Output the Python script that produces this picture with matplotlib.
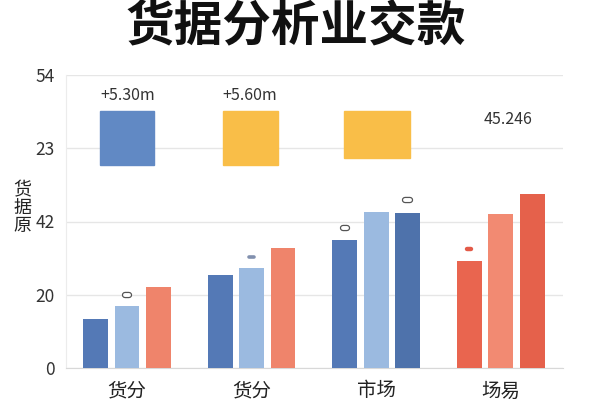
import matplotlib.pyplot as plt
import numpy as np

plt.rcParams['font.family'] = ['Noto Sans CJK SC', 'DejaVu Sans']

# data
title = "货据分析业交款"
ylabel = "货据原"
categories = ["货分", "货分", "市场", "场易"]
ytick_vals = [0, 20, 40, 60, 80]
ytick_labels = ["0", "20", "42", "23", "54"]

# three bars per group (on the evenly spaced axis)
bar1 = [13.3, 25.3, 34.9, 29.1]
bar2 = [16.8, 27.2, 42.6, 42.0]
bar3 = [22.0, 32.7, 42.3, 47.5]

bar1_colors = ["#5479b6", "#5479b6", "#5479b6", "#e9654f"]
bar2_colors = ["#9bbae0", "#9bbae0", "#9bbae0", "#f28a72"]
bar3_colors = ["#ef846b", "#ef846b", "#4e72ab", "#e5614b"]

# little pill marks above some bars: (group, bar, value, style)
pills = [(0, 1, 19.8, "outline"),
         (1, 1, 30.4, "slate"),
         (2, 0, 38.3, "outline"),
         (2, 2, 45.8, "outline"),
         (3, 0, 32.6, "red")]

# top key boxes
key_labels = ["+5.30m", "+5.60m", "", "45.246"]
key_colors = ["#6189c4", "#f9be48", "#f9be48", None]


def main():
    fig = plt.figure(figsize=(6, 4), dpi=100)
    ax = fig.add_axes([66 / 600, 32 / 400, 497 / 600, 293 / 400])

    x = np.arange(len(categories))
    w = 0.2
    off = 0.252
    ax.bar(x - off, bar1, w, color=bar1_colors, zorder=3)
    ax.bar(x, bar2, w, color=bar2_colors, zorder=3)
    ax.bar(x + off, bar3, w, color=bar3_colors, zorder=3)

    for g, b, v, style in pills:
        px = g + (b - 1) * off
        d = 0.017
        if style == "outline":
            ax.plot([px - d, px + d], [v, v], lw=4.6, color="#555555",
                    solid_capstyle="round", zorder=4)
            ax.plot([px - d, px + d], [v, v], lw=2.8, color="white",
                    solid_capstyle="round", zorder=5)
        elif style == "slate":
            ax.plot([px - d, px + d], [v, v], lw=2.6, color="#8190ae",
                    solid_capstyle="round", zorder=4)
        else:
            ax.plot([px - d, px + d], [v, v], lw=3.2, color="#e35a48",
                    solid_capstyle="round", zorder=4)

    # key boxes drawn in axes fraction
    boxes = [(34, 54, 54), (157, 55, 54), (278, 66, 47)]
    for i, (bx, bw, bh) in enumerate(boxes):
        if key_colors[i] is None:
            continue
        ax.add_patch(plt.Rectangle((bx / 497, 1 - (36 + bh) / 293), bw / 497, bh / 293,
                                   transform=ax.transAxes, color=key_colors[i],
                                   zorder=4, clip_on=False))
    ax.text(62 / 497, 1 - 21 / 293, key_labels[0], transform=ax.transAxes,
            ha="center", va="center", fontsize=11.5, color="#333333")
    ax.text(184 / 497, 1 - 21 / 293, key_labels[1], transform=ax.transAxes,
            ha="center", va="center", fontsize=11.5, color="#333333")
    ax.text(442 / 497, 1 - 44 / 293, key_labels[3], transform=ax.transAxes,
            ha="center", va="center", fontsize=11.5, color="#333333")

    ax.set_xlim(-0.49, 3.5)
    ax.set_ylim(0, 80)
    ax.set_yticks(ytick_vals)
    ax.set_yticklabels(ytick_labels, fontsize=12.5, color="#333333")
    ax.set_xticks(x)
    ax.set_xticklabels(categories, fontsize=14, color="#222222")
    ax.tick_params(length=0, pad=8)
    ax.tick_params(axis="x", pad=9)
    ax.grid(axis="y", color="#e6e6e6", lw=1, zorder=0)
    for s in ["top", "right"]:
        ax.spines[s].set_visible(False)
    ax.spines["left"].set_color("#ececec")
    ax.spines["bottom"].set_color("#d8d8d8")

    fig.text(22 / 600, 1 - 208 / 400, "\n".join(ylabel), ha="center", va="center",
             fontsize=13, color="#222222", linespacing=1.0)
    fig.text(0.492, 1 - 27 / 400, title, ha="center", va="center",
             fontsize=35, fontweight="bold", color="#111111")

    fig.savefig("out.png", dpi=100, facecolor="white")


if __name__ == "__main__":
    main()
